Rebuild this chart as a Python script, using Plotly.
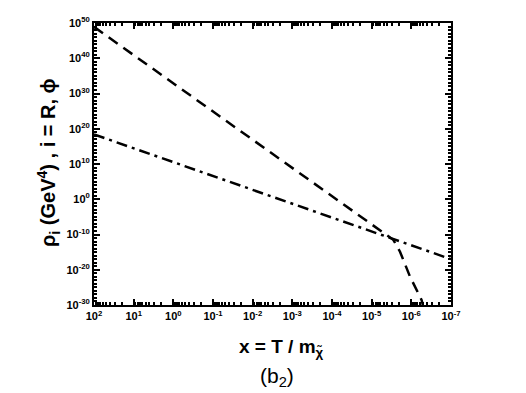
import plotly.graph_objects as go

# Dashed curve (rho_phi): x = T/m values and rho values
phi_x = [1e2, 2.85e-6, 1.93e-6, 1.08e-6, 5.5e-7, 4.9e-7]
phi_y = [8e48, 3.2e-12, 1.3e-15, 1.1e-22, 2.5e-29, 1e-31]

# Dash-dot curve (rho_R)
rad_x = [1e2, 1e-7]
rad_y = [2.5e18, 1e-17]

x_tick_exp = [2, 1, 0, -1, -2, -3, -4, -5, -6, -7]
y_tick_exp = [50, 40, 30, 20, 10, 0, -10, -20, -30]

def sup(e):
    return "10<sup>%d</sup>" % e

fig = go.Figure()
fig.add_trace(go.Scatter(x=phi_x, y=phi_y, mode="lines",
                         line=dict(color="black", width=2.5, dash="11px,7px"),
                         showlegend=False))
fig.add_trace(go.Scatter(x=rad_x, y=rad_y, mode="lines",
                         line=dict(color="black", width=2.5, dash="11px,5px,3px,5px"),
                         showlegend=False))

x_minor = [d * 10.0 ** k for k in range(-7, 2) for d in range(2, 10)]
y_minor = [10.0 ** k for k in range(-30, 51) if k % 10 != 0]

tickfont = dict(family="Arial, Liberation Sans", size=11, color="black", weight="bold")

common = dict(ticks="inside", ticklen=6, tickwidth=1.5, tickcolor="black",
              showline=True, linewidth=2, linecolor="black", mirror="allticks",
              showgrid=False, zeroline=False, tickfont=tickfont)

fig.update_xaxes(type="log", range=[2, -7],
                 tickmode="array",
                 tickvals=[10.0 ** e for e in x_tick_exp],
                 ticktext=[sup(e) for e in x_tick_exp],
                 minor=dict(tickmode="array", tickvals=x_minor, ticks="inside",
                            ticklen=3, tickwidth=1.5, tickcolor="black", showgrid=False),
                 **common)
fig.update_yaxes(type="log", range=[-30, 50],
                 tickmode="array",
                 tickvals=[10.0 ** e for e in y_tick_exp],
                 ticktext=[sup(e) for e in y_tick_exp],
                 minor=dict(tickmode="array", tickvals=y_minor, ticks="inside",
                            ticklen=3, tickwidth=1.5, tickcolor="black", showgrid=False),
                 **common)

fig.add_annotation(text="<b>ρ<sub>i</sub> (GeV<sup>4</sup>) , i = R, ϕ</b>",
                   xref="paper", yref="paper", x=(48 - 94) / 357, y=(305 - 163) / 282,
                   xanchor="center", yanchor="middle",
                   textangle=-90, showarrow=False,
                   font=dict(family="Arial, Liberation Sans", size=20, color="black"))
fig.add_annotation(text="<b>x = T / m<sub>χ̃</sub></b>",
                   xref="paper", yref="paper", x=(281 - 94) / 357, y=(305 - 348) / 282,
                   xanchor="center", yanchor="middle",
                   showarrow=False,
                   font=dict(family="Arial, Liberation Sans", size=19, color="black"))
fig.add_annotation(text="(b<sub>2</sub>)",
                   xref="paper", yref="paper", x=(277 - 94) / 357, y=(305 - 377) / 282,
                   xanchor="center", yanchor="middle",
                   showarrow=False,
                   font=dict(family="Arial, Liberation Sans", size=21, color="black"))

fig.update_layout(width=526, height=393,
                  margin=dict(l=94, r=75, t=23, b=88),
                  paper_bgcolor="white", plot_bgcolor="white")

fig.write_html("out.html", config={"displayModeBar": False},
               post_script="document.body.style.margin='0px';")
